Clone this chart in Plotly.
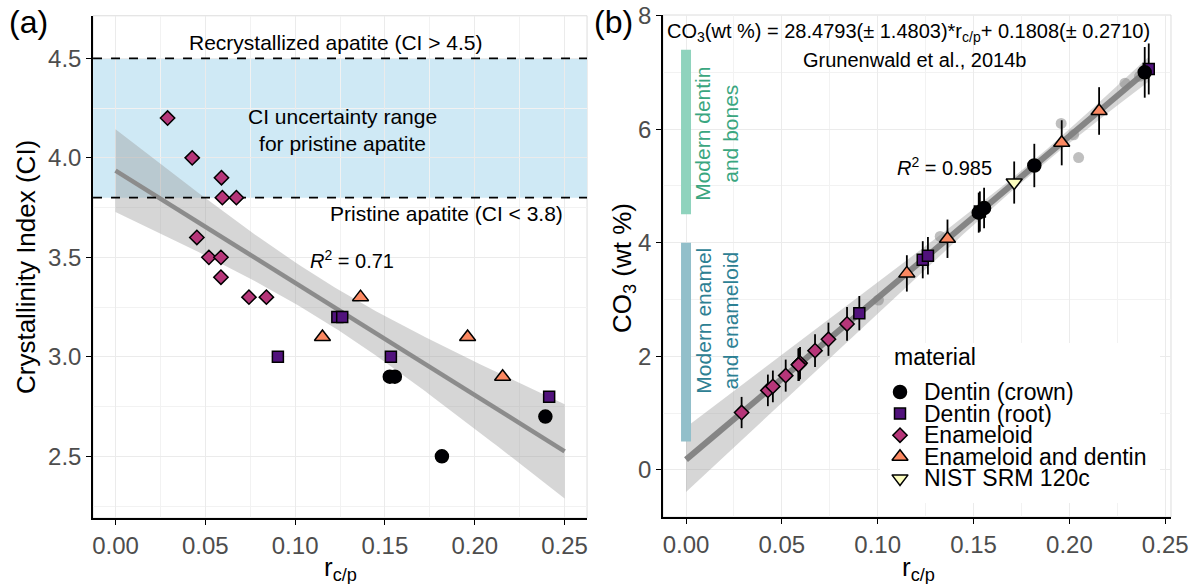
import numpy as np
import plotly.graph_objects as go

# ---- sample data: r_c/p ratio, crystallinity index (CI) and CO3 content ----
r_crown = [0.1527, 0.1555, 0.1817, 0.2393]
ci_crown = [2.9, 2.9, 2.5, 2.7]
co3_crown = [4.53, 4.61, 5.36, 7.00]
err_crown = [0.353, 0.356, 0.382, 0.446]

r_root = [0.0904, 0.1235, 0.1262, 0.1533, 0.2414]
ci_root = [3.0, 3.2, 3.2, 3.0, 2.8]
co3_root = [2.76, 3.70, 3.77, 4.55, 7.06]
err_root = [0.302, 0.327, 0.329, 0.354, 0.449]

r_enameloid = [0.0290, 0.0427, 0.0453, 0.0520, 0.0590, 0.0595, 0.0587, 0.0587, 0.0673, 0.0743, 0.0840]
ci_enameloid = [4.2, 4.0, 3.6, 3.5, 3.9, 3.8, 3.5, 3.4, 3.8, 3.3, 3.3]
co3_enameloid = [1.01, 1.40, 1.47, 1.66, 1.86, 1.88, 1.85, 1.85, 2.10, 2.30, 2.57]
err_enameloid = [0.275, 0.278, 0.279, 0.282, 0.285, 0.285, 0.285, 0.285, 0.289, 0.292, 0.298]

r_mixed = [0.1152, 0.1364, 0.1960, 0.2155]
ci_mixed = [3.1, 3.3, 3.1, 2.9]
co3_mixed = [3.46, 4.07, 5.76, 6.32]
err_mixed = [0.320, 0.338, 0.397, 0.419]

r_nist = [0.1712]
co3_nist = [5.06]
err_nist = [0.371]

# calibration data of Grunenwald et al. (2014b)
r_calib = [0.1004, 0.1326, 0.1957, 0.2022, 0.2048, 0.2290, 0.2366]
co3_calib = [2.99, 4.11, 6.10, 5.90, 5.50, 6.81, 6.93]

# calibration equation and its standard errors
cal_slope, cal_slope_se = 28.4793, 1.4803
cal_int, cal_int_se = 0.1808, 0.2710
cal_mean_r = 0.18
cal_t = 2.1

# crystallinity thresholds
ci_pristine = 3.8
ci_recryst = 4.5
t_975_df22 = 2.074

# CO3 ranges of modern tissues
range_dentin_bones = [4.5, 7.4]
range_enamel = [0.5, 4.0]

x_ticks = [0.00, 0.05, 0.10, 0.15, 0.20, 0.25]
ci_ticks = [2.5, 3.0, 3.5, 4.0, 4.5]
co3_ticks = [0, 2, 4, 6, 8]

x_range_a = [-0.0125, 0.2625]
y_range_a = [2.19, 4.714]
x_range_b = [-0.012, 0.253]
y_range_b = [-0.83, 8.01]

FONT = "Liberation Sans, Arial, sans-serif"
magma = {"crown": "#000004", "root": "#51127C", "enameloid": "#B63679",
         "mixed": "#FB8861", "nist": "#FCFDBF"}

fig = go.Figure()

# ---- (a) linear model of CI vs r_c/p with 95 % confidence band ----
all_r = np.array(r_crown + r_root + r_enameloid + r_mixed)
all_ci = np.array(ci_crown + ci_root + ci_enameloid + ci_mixed)
slope, intercept = np.polyfit(all_r, all_ci, 1)
n = len(all_r)
resid = all_ci - (intercept + slope * all_r)
sigma2 = np.sum(resid ** 2) / (n - 2)
sxx = np.sum((all_r - all_r.mean()) ** 2)
r_grid = np.linspace(0, 0.25, 120)
fit = intercept + slope * r_grid
half = t_975_df22 * np.sqrt(sigma2 * (1 / n + (r_grid - all_r.mean()) ** 2 / sxx))

fig.add_trace(go.Scatter(x=r_grid, y=fit - half, mode="lines", line=dict(width=0),
                         showlegend=False, hoverinfo="skip", xaxis="x", yaxis="y"))
fig.add_trace(go.Scatter(x=r_grid, y=fit + half, mode="lines", line=dict(width=0),
                         fill="tonexty", fillcolor="rgba(153,153,153,0.4)",
                         showlegend=False, hoverinfo="skip", xaxis="x", yaxis="y"))
fig.add_trace(go.Scatter(x=r_grid, y=fit, mode="lines", line=dict(color="#8c8c8c", width=4.5),
                         showlegend=False, hoverinfo="skip", xaxis="x", yaxis="y"))

# CI threshold lines across the whole panel
for lvl in (ci_pristine, ci_recryst):
    fig.add_trace(go.Scatter(x=x_range_a, y=[lvl, lvl], mode="lines",
                             line=dict(color="black", width=1.8, dash="dash"),
                             showlegend=False, hoverinfo="skip", xaxis="x", yaxis="y"))

groups = [
    ("Dentin (root)", r_root, ci_root, co3_root, err_root, "square", 11, magma["root"]),
    ("Enameloid", r_enameloid, ci_enameloid, co3_enameloid, err_enameloid, "diamond", 11, magma["enameloid"]),
    ("Enameloid and dentin", r_mixed, ci_mixed, co3_mixed, err_mixed, "triangle-up", 14, magma["mixed"]),
    ("Dentin (crown)", r_crown, ci_crown, co3_crown, err_crown, "circle", 13, magma["crown"]),
]

for name, rr, ci, co3, err, sym, size, col in groups:
    fig.add_trace(go.Scatter(
        x=rr, y=ci, mode="markers", name=name, showlegend=False,
        marker=dict(symbol=sym, size=size, color=col, line=dict(color="black", width=1.5)),
        xaxis="x", yaxis="y"))

# ---- (b) calibration line with confidence band ----
r_cal = np.linspace(0, max(r_root + r_crown), 120)
cal_fit = cal_int + cal_slope * r_cal
sig_n = cal_int_se ** 2 - (cal_mean_r * cal_slope_se) ** 2
cal_half = cal_t * np.sqrt(sig_n + ((r_cal - cal_mean_r) * cal_slope_se) ** 2)

fig.add_trace(go.Scatter(x=r_cal, y=cal_fit - cal_half, mode="lines", line=dict(width=0),
                         showlegend=False, hoverinfo="skip", xaxis="x2", yaxis="y2"))
fig.add_trace(go.Scatter(x=r_cal, y=cal_fit + cal_half, mode="lines", line=dict(width=0),
                         fill="tonexty", fillcolor="rgba(153,153,153,0.4)",
                         showlegend=False, hoverinfo="skip", xaxis="x2", yaxis="y2"))
fig.add_trace(go.Scatter(x=r_cal, y=cal_fit, mode="lines", line=dict(color="#858585", width=6),
                         showlegend=False, hoverinfo="skip", xaxis="x2", yaxis="y2"))
fig.add_trace(go.Scatter(x=r_calib, y=co3_calib, mode="markers",
                         marker=dict(size=11, color="rgba(128,128,128,0.5)"),
                         showlegend=False, hoverinfo="skip", xaxis="x2", yaxis="y2"))

for name, rr, ci, co3, err, sym, size, col in groups:
    fig.add_trace(go.Scatter(
        x=rr, y=co3, mode="markers", name=name, showlegend=False,
        error_y=dict(type="data", array=err, color="black", thickness=1.8, width=0),
        marker=dict(symbol=sym, size=size, color=col, line=dict(color="black", width=1.5)),
        xaxis="x2", yaxis="y2"))

fig.add_trace(go.Scatter(
    x=r_nist, y=co3_nist, mode="markers", name="NIST SRM 120c", showlegend=False,
    error_y=dict(type="data", array=err_nist, color="black", thickness=1.8, width=0),
    marker=dict(symbol="triangle-down", size=14, color=magma["nist"], line=dict(color="black", width=1.5)),
    xaxis="x2", yaxis="y2"))

# ---- legend drawn on its own small overlay axes (pixel-like units) ----
leg_box_x = [880, 1160]
leg_box_y = [343, 503]
leg_entries = [
    ("Dentin (crown)", "circle", 13, magma["crown"]),
    ("Dentin (root)", "square", 11, magma["root"]),
    ("Enameloid", "diamond", 11, magma["enameloid"]),
    ("Enameloid and dentin", "triangle-up", 14, magma["mixed"]),
    ("NIST SRM 120c", "triangle-down", 14, magma["nist"]),
]
leg_key_x = 900
leg_text_x = 922
leg_title_y = 357
leg_first_y = 392
leg_step = 21.6

fig.add_trace(go.Scatter(
    x=[leg_box_x[0], leg_box_x[1], leg_box_x[1], leg_box_x[0], leg_box_x[0]],
    y=[leg_box_y[0], leg_box_y[0], leg_box_y[1], leg_box_y[1], leg_box_y[0]],
    mode="lines", fill="toself", fillcolor="white", line=dict(width=0),
    showlegend=False, hoverinfo="skip", xaxis="x3", yaxis="y3"))
for i, (label, sym, size, col) in enumerate(leg_entries):
    fig.add_trace(go.Scatter(
        x=[leg_key_x], y=[leg_first_y + i * leg_step], mode="markers",
        marker=dict(symbol=sym, size=size, color=col, line=dict(color="black", width=1.5)),
        showlegend=False, hoverinfo="skip", xaxis="x3", yaxis="y3"))

# ---- axes ----
W, H = 1202, 584
dom_a = dict(x=[0.0774, 0.4884], y=[0.113, 0.973])
dom_b = dict(x=[0.5516, 0.9742], y=[0.1147, 0.9743])

common = dict(showline=True, linecolor="black", linewidth=1.6, ticks="outside", ticklen=5,
              tickwidth=1.4, tickcolor="black", zeroline=False, showgrid=True,
              gridcolor="#ebebeb", gridwidth=1.2, automargin=False,
              tickfont=dict(family=FONT, size=24, color="#4d4d4d"))

fig.update_layout(
    width=W, height=H, margin=dict(l=0, r=0, t=0, b=0, pad=0, autoexpand=False),
    paper_bgcolor="white", plot_bgcolor="white",
    font=dict(family=FONT, color="black"),
    showlegend=False,
    xaxis=dict(domain=dom_a["x"], range=x_range_a, anchor="y",
               tickvals=x_ticks, ticktext=[f"{v:.2f}" for v in x_ticks],
               minor=dict(dtick=0.025, tick0=0, showgrid=True, gridcolor="#f2f2f2", gridwidth=0.8, ticks=""),
               **common),
    yaxis=dict(domain=dom_a["y"], range=y_range_a, anchor="x",
               tickvals=ci_ticks, ticktext=[f"{v:.1f}" for v in ci_ticks],
               minor=dict(dtick=0.25, tick0=2.5, showgrid=True, gridcolor="#f2f2f2", gridwidth=0.8, ticks=""),
               **common),
    xaxis2=dict(domain=dom_b["x"], range=x_range_b, anchor="y2",
                tickvals=x_ticks, ticktext=[f"{v:.2f}" for v in x_ticks],
                minor=dict(dtick=0.025, tick0=0, showgrid=True, gridcolor="#f2f2f2", gridwidth=0.8, ticks=""),
                **common),
    yaxis2=dict(domain=dom_b["y"], range=y_range_b, anchor="x2",
                tickvals=co3_ticks, ticktext=[str(v) for v in co3_ticks],
                minor=dict(dtick=1, tick0=0, showgrid=True, gridcolor="#f2f2f2", gridwidth=0.8, ticks=""),
                **common),
    xaxis3=dict(domain=[leg_box_x[0] / W, leg_box_x[1] / W], range=leg_box_x, anchor="y3",
                visible=False, fixedrange=True, automargin=False),
    yaxis3=dict(domain=[1 - leg_box_y[1] / H, 1 - leg_box_y[0] / H], range=[leg_box_y[1], leg_box_y[0]],
                anchor="x3", visible=False, fixedrange=True, automargin=False),
)

# ---- shapes: panel borders, pristine band, modern ranges ----
shapes = []
for d in (dom_a, dom_b):
    shapes.append(dict(type="rect", xref="paper", yref="paper", x0=d["x"][0], x1=d["x"][1],
                       y0=d["y"][0], y1=d["y"][1], line=dict(color="#dcdcdc", width=1), layer="below"))
shapes.append(dict(type="rect", xref="x", yref="y", x0=x_range_a[0], x1=x_range_a[1],
                   y0=ci_pristine, y1=ci_recryst,
                   fillcolor="rgb(207,233,245)", line=dict(width=0), layer="below"))
shapes.append(dict(type="rect", xref="x2", yref="y2", x0=-0.0026, x1=0.0026,
                   y0=range_dentin_bones[0], y1=range_dentin_bones[1],
                   fillcolor="#8fd3bd", line=dict(width=0), layer="above"))
shapes.append(dict(type="rect", xref="x2", yref="y2", x0=-0.0026, x1=0.0026,
                   y0=range_enamel[0], y1=range_enamel[1],
                   fillcolor="#92bfca", line=dict(width=0), layer="above"))
fig.update_layout(shapes=shapes)

# ---- text ----
def ann(text, x, y, xref, yref, size=21, color="black", xanchor="center", **kw):
    fig.add_annotation(text=text, x=x, y=y, xref=xref, yref=yref, showarrow=False,
                       xanchor=xanchor, yanchor="middle",
                       font=dict(family=FONT, size=size, color=color), **kw)

ann("Recrystallized apatite (CI > 4.5)", 0.123, 4.578, "x", "y")
ann("CI uncertainty range<br>for pristine apatite", 0.1265, 4.141, "x", "y")
ann("Pristine apatite (CI < 3.8)", 0.1845, 3.722, "x", "y")
ann("<i>R</i><sup>2</sup> = 0.71", 0.1315, 3.49, "x", "y", size=20)

ann("CO<sub>3</sub>(wt %) = 28.4793(± 1.4803)*r<sub>c/p</sub>+ 0.1808(± 0.2710)", 0.1161, 7.71, "x2", "y2", size=20)
ann("Grunenwald et al., 2014b", 0.1195, 7.22, "x2", "y2", size=20)
ann("<i>R</i><sup>2</sup> = 0.985", 0.1349, 5.34, "x2", "y2", size=20)
ann("Modern dentin<br>and bones", 0.0157, 5.92, "x2", "y2", color="#3aa680", textangle=-90)
ann("Modern enamel<br>and enameloid", 0.0157, 2.63, "x2", "y2", color="#2d8093", textangle=-90)

# legend title and labels
ann("material", leg_key_x - 8, leg_title_y, "x3", "y3", size=23, xanchor="left")
for i, (label, sym, size, col) in enumerate(leg_entries):
    ann(label, leg_text_x, leg_first_y + i * leg_step, "x3", "y3", size=23, xanchor="left")

# panel tags and axis titles (positions in pixels)
def px(xp, yp):
    return xp / W, 1 - yp / H

for text, (xp, yp), size, angle in [
    ("(a)", (28, 22), 32, 0),
    ("(b)", (613, 22), 32, 0),
    ("Crystallinity Index (CI)", (26, 267), 26, -90),
    ("CO<sub>3</sub> (wt %)", (623, 268), 26, -90),
    ("r<sub>c/p</sub>", (340, 568), 26, 0),
    ("r<sub>c/p</sub>", (918, 568), 26, 0),
]:
    xx, yy = px(xp, yp)
    ann(text, xx, yy, "paper", "paper", size=size, textangle=angle)

fig.write_html("out.html")
